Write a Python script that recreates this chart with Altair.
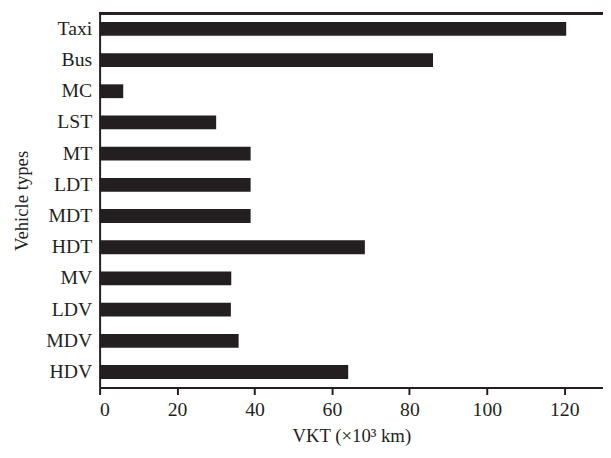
import altair as alt
import pandas as pd

categories = ["Taxi", "Bus", "MC", "LST", "MT", "LDT", "MDT", "HDT", "MV", "LDV", "MDV", "HDV"]
values = [120.5, 86.1, 6.1, 30.1, 39.0, 39.0, 39.0, 68.5, 34.0, 33.9, 35.9, 64.2]
x_ticks = [0, 20, 40, 60, 80, 100, 120]

df = pd.DataFrame({"type": categories, "vkt": values})

INK = "#231f20"
FONT = "Times New Roman, Liberation Serif, serif"
W, H = 511, 380

bars = alt.Chart(df).mark_bar(color=INK).encode(
    x=alt.X("vkt:Q", title="VKT (×10³ km)",
            scale=alt.Scale(domain=[0, 130], nice=False, zero=True),
            axis=alt.Axis(values=x_ticks, grid=False)),
    y=alt.Y("type:N", sort=categories, title="Vehicle types",
            scale=alt.Scale(paddingInner=0.557, paddingOuter=0.2785),
            axis=alt.Axis(ticks=False, grid=False)),
)

top_line = alt.Chart(df).mark_rule(color=INK, strokeWidth=2).encode(
    x=alt.value(0), x2=alt.value(W), y=alt.value(0)
)

chart = alt.layer(bars, top_line).properties(
    width=W, height=H,
    autosize=alt.AutoSizeParams(type="none"),
    padding={"left": 93, "top": 2, "right": 0, "bottom": 60},
).configure_view(stroke=None).configure_axis(
    domainColor=INK, domainWidth=2, tickColor=INK, tickWidth=2, tickSize=7,
    labelFont=FONT, labelFontSize=20, labelColor=INK, labelPadding=5,
    titleFont=FONT, titleFontSize=19, titleFontWeight="normal", titleColor=INK,
).configure_axisY(labelPadding=8, titlePadding=15).configure_axisX(titlePadding=8)

chart.save("out.html", embed_options={"renderer": "svg", "actions": False})
